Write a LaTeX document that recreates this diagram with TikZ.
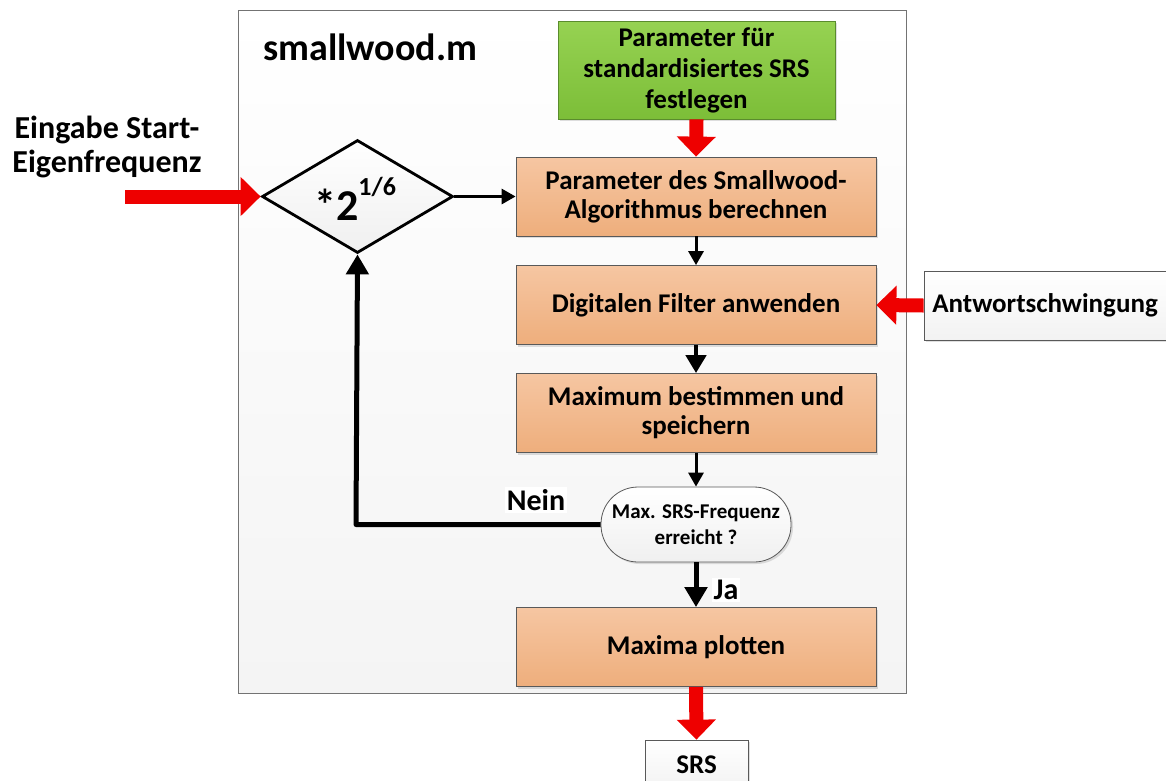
\documentclass[tikz,border=0pt]{standalone}
\usepackage{fontspec}
\setmainfont{Carlito}
\usetikzlibrary{arrows.meta,shapes.geometric,shapes.misc,shadows}
\definecolor{orTop}{RGB}{246,198,162}
\definecolor{orBot}{RGB}{238,174,124}
\definecolor{grTop}{RGB}{150,210,82}
\definecolor{grBot}{RGB}{124,190,56}
\definecolor{grBorder}{RGB}{90,140,45}
\definecolor{arrRed}{RGB}{238,0,0}
\definecolor{frameFill}{RGB}{244,244,244}
\tikzset{
  proc/.style={draw=black!65, line width=0.8pt, top color=orTop, bottom color=orBot,
    minimum width=360pt, minimum height=79pt, align=center, inner sep=0pt,
    font=\bfseries\fontsize{27}{29}\selectfont,
    drop shadow={shadow xshift=2pt, shadow yshift=-2pt, opacity=0.25}},
  greenbox/.style={draw=grBorder, line width=0.8pt, top color=grTop, bottom color=grBot,
    minimum width=277pt, minimum height=98pt, align=center, inner sep=0pt,
    font=\bfseries\fontsize{27}{31}\selectfont,
    drop shadow={shadow xshift=2pt, shadow yshift=-2pt, opacity=0.25}},
  whitebox/.style={draw=black!65, line width=0.8pt, top color=white, bottom color=black!5,
    align=center, inner sep=0pt, font=\bfseries\fontsize{27}{30}\selectfont,
    drop shadow={shadow xshift=2pt, shadow yshift=-2pt, opacity=0.25}},
  redarrow/.style={draw=arrRed, line width=14pt, -{Triangle[length=20pt,width=38pt]}},
  blackarrow/.style={draw=black, line width=3pt, -{Triangle[length=14pt,width=15pt]}},
  thickarrow/.style={draw=black, line width=5pt, -{Triangle[length=20pt,width=22pt]}},
  lbl/.style={fill=white, inner sep=2pt, font=\bfseries\fontsize{30}{32}\selectfont},
}
\begin{document}
\begin{tikzpicture}[x=1pt,y=-1pt]
\useasboundingbox (0,0) rectangle (1166,780);
% frame
\node[draw=black!55, line width=0.8pt, top color=white, bottom color=frameFill,
  minimum width=668pt, minimum height=683pt, inner sep=0pt] (frame) at (572,351.5) {};
\node[font=\bfseries\fontsize{38}{40}\selectfont, anchor=west, inner sep=0pt] (title) at (263,47) {smallwood.m};
% green box
\node[greenbox] (green) at (696.5,70) {Parameter für\\standardisiertes SRS\\festlegen};
% process boxes
\node[proc] (b1) at (696,196.5) {Parameter des Smallwood-\\Algorithmus berechnen};
\node[proc] (b2) at (696,305) {Digitalen Filter anwenden};
\node[proc] (b3) at (696,413) {Maximum bestimmen und\\speichern};
\node[draw=black!65, line width=0.8pt, top color=white, bottom color=black!6,
  rounded corners=37pt, minimum width=190pt, minimum height=75pt, align=center, inner sep=0pt,
  font=\bfseries\fontsize{21}{26}\selectfont,
  drop shadow={shadow xshift=2pt, shadow yshift=-2pt, opacity=0.25}] (dec) at (696,524.5) {Max. SRS-Frequenz\\erreicht ?};
\node[proc] (b4) at (696,647) {Maxima plotten};
\node[whitebox, minimum width=103pt, minimum height=50pt] (srs) at (696.5,765) {SRS};
\node[whitebox, minimum width=242pt, minimum height=69pt] (antw) at (1045,305.5) {Antwortschwingung};
% diamond
\node[diamond, draw=black, line width=2.8pt, top color=white, bottom color=black!6,
  minimum width=191pt, minimum height=113pt, inner sep=0pt] (dia) at (357.5,196.5) {};
\node[font=\bfseries\fontsize{44}{46}\selectfont, anchor=base west, inner sep=0pt] (diatext) at (314,220)
  {*2\raisebox{25pt}{\fontsize{26}{26}\selectfont 1/6}};
% input text
\node[align=center, font=\bfseries\fontsize{32}{34}\selectfont] (eing) at (107,147) {Eingabe Start-\\Eigenfrequenz};
\coordinate (eingtail) at (125,196.5);
% arrows
\draw[redarrow] (green.south) -- (b1.north);
\draw[redarrow] (eingtail) -- (dia.west);
\draw[redarrow] (antw.west) -- (b2.east);
\draw[redarrow] (b4.south) -- (srs.north);
\draw[blackarrow] (dia.east) -- (b1.west);
\draw[blackarrow] (b1.south) -- (b2.north);
\draw[draw=black, line width=4.5pt, -{Triangle[length=18pt,width=20pt]}] (b2.south) -- (b3.north);
\draw[blackarrow] (b3.south) -- (dec.north);
\draw[thickarrow] (dec.south) -- (b4.north);
\draw[draw=black, line width=5pt, line join=round, -{Triangle[length=20pt,width=22pt]}]
  (dec.west) -- (356,524.5) -- (dia.south);
% labels
\node[lbl] (nein) at (536,500) {Nein};
\node[lbl] (ja) at (726,590) {Ja};
\end{tikzpicture}
\end{document}
